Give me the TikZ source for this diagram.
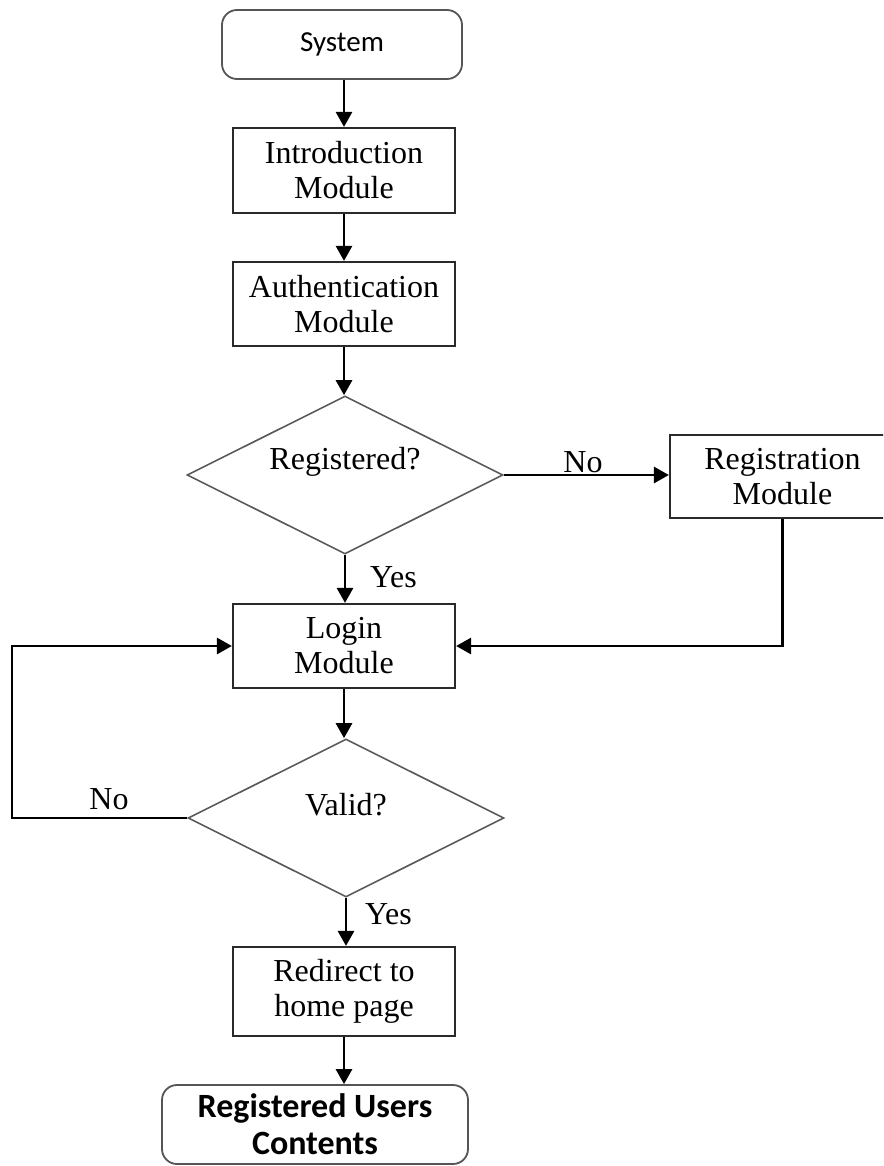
\documentclass[tikz,border=0pt]{standalone}
\usepackage{fontspec}
\setmainfont{Liberation Serif}
\newfontfamily\calfont{Carlito}
\usetikzlibrary{shapes.geometric,arrows.meta}

\definecolor{edge}{HTML}{2A2A2A}
\definecolor{diaedge}{HTML}{5A5A5A}

\tikzset{
  txt/.style={font=\fontsize{32}{35}\selectfont, text=black},
  modbox/.style={draw=edge, line width=2.2pt, rectangle, inner sep=0pt,
    minimum width=222pt, align=center, txt},
  termbox/.style={draw=edge!80, line width=1.8pt, rectangle, rounded corners=15pt,
    inner sep=0pt, align=center},
  decision/.style={draw=diaedge, line width=1.6pt, diamond, inner sep=0pt,
    minimum width=316pt, minimum height=158pt},
  flow/.style={draw=black, line width=2.8pt, -{Triangle[width=16pt,length=15pt]}},
  lbl/.style={txt, inner sep=0pt}
}

\begin{document}
\begin{tikzpicture}[x=1pt, y=-1pt]
  \clip (0,0) rectangle (883,1166);
  \fill[white] (0,0) rectangle (883,1166);

  % entry and exit terminals
  \node[termbox, minimum width=240pt, minimum height=69pt,
        font=\calfont\fontsize{29}{32}\selectfont] (sys) at (342,44.5) {System};
  \node[termbox, minimum width=306pt, minimum height=79pt,
        font=\calfont\bfseries\fontsize{34}{37}\selectfont] (users) at (315,1124.5)
        {Registered Users\\Contents};

  % modules
  \node[modbox, minimum height=85pt] (intro) at (344,170.5) {Introduction\\Module};
  \node[modbox, minimum height=84pt] (auth) at (344,304) {Authentication\\Module};
  \node[modbox, minimum width=225pt, minimum height=83pt] (regmod) at (782.5,476.5)
        {Registration\\Module};
  \node[modbox, minimum height=84pt] (login) at (344,646) {Login\\Module};
  \node[modbox, minimum height=89pt] (redir) at (344,991.5) {Redirect to\\home page};

  % decisions
  \node[decision, label={[lbl, yshift=13pt]center:Registered?}] (isreg) at (345,475) {};
  \node[decision, label={[lbl, yshift=13pt]center:Valid?}] (valid) at (346,818) {};

  % main line
  \draw[flow] (intro.north |- sys.south) -- (intro.north);
  \draw[flow] (intro) -- (auth);
  \draw[flow] (auth.south) -- (auth.south |- isreg.north);
  \draw[flow] (isreg.south) -- (isreg.south |- login.north);
  \draw[flow] (login.south) -- (login.south |- valid.north);
  \draw[flow] (valid.south) -- (valid.south |- redir.north);
  \draw[flow] (redir.south) -- (redir.south |- users.north);

  % registration branch
  \draw[flow] (isreg.east) -- (isreg.east -| regmod.west);
  \draw[flow] (regmod.south) |- (login.east);

  % retry loop
  \coordinate (loopc) at (12,818);
  \draw[flow] (valid.west) -- (loopc) |- (login.west);

  % branch labels
  \node[lbl] (noreg) at (583,462) {No};
  \node[lbl, anchor=west] (yesreg) at (370,577) {Yes};
  \node[lbl] (noval) at (109,799) {No};
  \node[lbl, anchor=west] (yesval) at (365,914) {Yes};
\end{tikzpicture}
\end{document}
